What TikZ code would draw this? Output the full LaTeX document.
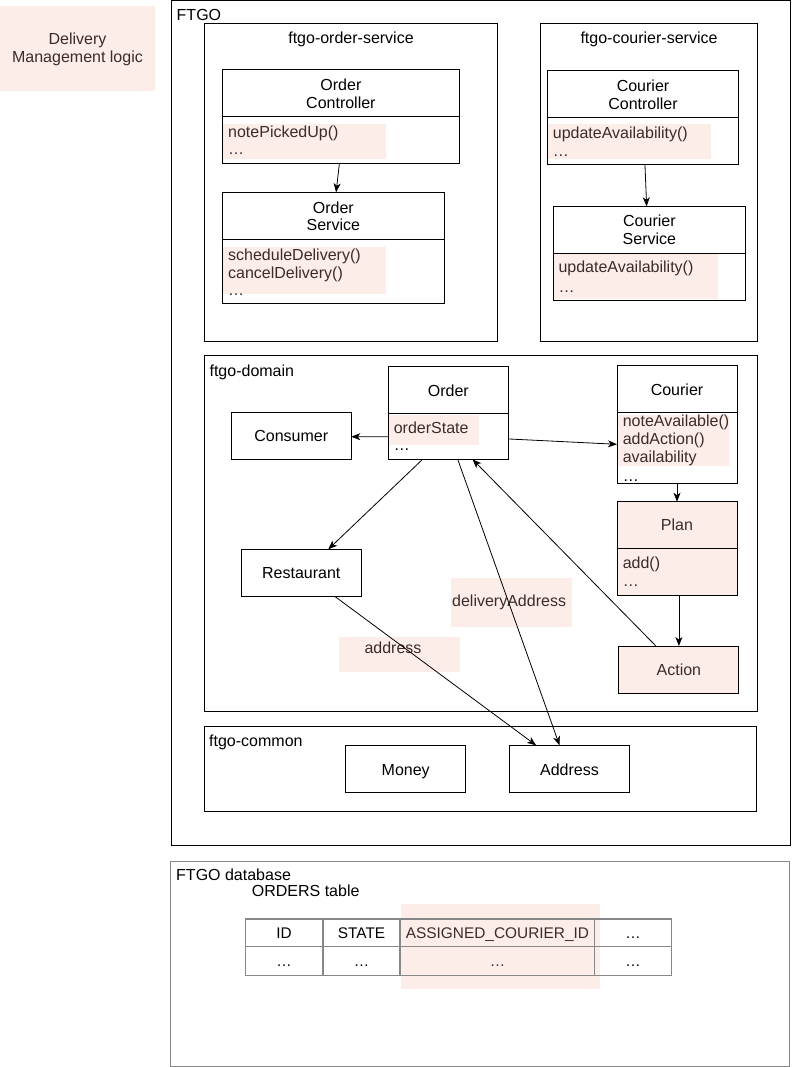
\documentclass[tikz,border=0pt]{standalone}
\usepackage{fontspec}
\setmainfont{Liberation Sans}
\usetikzlibrary{arrows.meta}
\definecolor{hl}{RGB}{253,237,233}
\definecolor{hltext}{RGB}{58,44,44}
\definecolor{dbgray}{RGB}{135,135,135}
\begin{document}
\begin{tikzpicture}[x=1pt,y=-1pt,
  every node/.style={font=\fontsize{16}{18}\selectfont},
  box/.style={draw, line width=1pt, inner sep=0pt, outer sep=0pt, anchor=north west},
  hlbox/.style={fill=hl, draw=none, inner sep=0pt, outer sep=0pt, anchor=north west},
  txt/.style={anchor=base, inner sep=0pt},
  ltxt/.style={anchor=base west, inner sep=0pt},
  htxt/.style={anchor=base west, inner sep=0pt, text=hltext},
  divider/.style={line width=1pt},
  conn/.style={line width=0.8pt, -{Stealth[length=9pt,width=7pt,inset=2.5pt]}},
  cell/.style={draw=dbgray, line width=1.3pt, inner sep=0pt, outer sep=0pt, anchor=north west, text height=11pt, text depth=0pt, font=\fontsize{15.4}{18}\selectfont}]
\useasboundingbox (0,0) rectangle (792,1067);

% legend
\node[hlbox, minimum width=155, minimum height=85] (dml) at (0,6) {};
\node[txt, text=hltext] (dmlA) at (77.5,45) {Delivery};
\node[txt, text=hltext] (dmlB) at (77.5,63) {Management logic};

% pink highlights (behind boxes)
\node[hlbox, minimum width=163.7, minimum height=35] (hlOC) at (222.3,124) {};
\node[hlbox, minimum width=163.7, minimum height=47.3] (hlOS) at (222.3,246.7) {};
\node[hlbox, minimum width=163.2, minimum height=35] (hlCC) at (547.8,124) {};
\node[hlbox, minimum width=164.2, minimum height=46] (hlCS) at (553.5,253.3) {};
\node[hlbox, minimum width=90.7, minimum height=30] (hlO) at (388.3,415) {};
\node[hlbox, minimum width=112, minimum height=50.7] (hlC) at (617,415) {};
\node[hlbox, minimum width=199.5, minimum height=84.7] (hlT) at (400.5,904) {};

% FTGO container
\node[box, minimum width=619.3, minimum height=844] (ftgo) at (171,1) {};
\node[ltxt] (ftgoL) at (176.5,20.7) {FTGO};

% ftgo-order-service
\node[box, minimum width=293.3, minimum height=317.3] (osvc) at (204.3,24) {};
\node[txt] (osvcL) at (351,43.3) {ftgo-order-service};

\node[box, minimum width=237.2, minimum height=94] (oc) at (222.3,69.3) {};
\draw[divider] (oc.west |- 0,116.7) -- (oc.east |- 0,116.7);
\node[txt] (ocA) at (340.9,90.7) {Order};
\node[txt] (ocB) at (340.9,108.3) {Controller};
\node[htxt] (ocM1) at (228,137.7) {notePickedUp()};
\node[htxt] (ocM2) at (228,155) {…};

\node[box, minimum width=222, minimum height=111] (os) at (222.3,192.3) {};
\draw[divider] (os.west |- 0,239.3) -- (os.east |- 0,239.3);
\node[txt] (osA) at (333.3,213.3) {Order};
\node[txt] (osB) at (333.3,231) {Service};
\node[htxt] (osM1) at (228,260) {scheduleDelivery()};
\node[htxt] (osM2) at (228,278.3) {cancelDelivery()};
\node[htxt] (osM3) at (228,295.7) {…};

% ftgo-courier-service
\node[box, minimum width=217, minimum height=317.3] (csvc) at (540.7,24) {};
\node[txt] (csvcL) at (649,44) {ftgo-courier-service};

\node[box, minimum width=190.7, minimum height=94] (cc) at (547.8,70.3) {};
\draw[divider] (cc.west |- 0,117.3) -- (cc.east |- 0,117.3);
\node[txt] (ccA) at (643,91.7) {Courier};
\node[txt] (ccB) at (643,110) {Controller};
\node[htxt] (ccM1) at (552.7,138.3) {updateAvailability()};
\node[htxt] (ccM2) at (552.7,156.7) {…};

\node[box, minimum width=191.7, minimum height=93.7] (cs) at (553.5,206.3) {};
\draw[divider] (cs.west |- 0,253.3) -- (cs.east |- 0,253.3);
\node[txt] (csA) at (649.4,226.7) {Courier};
\node[txt] (csB) at (649.4,244.3) {Service};
\node[htxt] (csM1) at (558.3,272.7) {updateAvailability()};
\node[htxt] (csM2) at (558.3,292.7) {…};

% ftgo-domain
\node[box, minimum width=553.2, minimum height=356.2] (dom) at (204.3,355.5) {};
\node[ltxt] (domL) at (209.4,376) {ftgo-domain};

\node[box, minimum width=120, minimum height=93.3] (order) at (388.3,366) {};
\draw[divider] (order.west |- 0,413.3) -- (order.east |- 0,413.3);
\node[txt] (orderT) at (448.3,396) {Order};
\node[htxt] (orderM1) at (393.6,433.3) {orderState};
\node[ltxt] (orderM2) at (393.6,450) {…};

\node[box, minimum width=120, minimum height=47] (consumer) at (231.3,412.3) {};
\node[txt] (consumerT) at (291.3,441.7) {Consumer};

\node[box, minimum width=120, minimum height=118] (courier) at (617,365.3) {};
\draw[divider] (courier.west |- 0,412) -- (courier.east |- 0,412);
\node[txt] (courierT) at (677,395) {Courier};
\node[htxt] (courierM1) at (622.6,426) {noteAvailable()};
\node[htxt] (courierM2) at (622.6,444.3) {addAction()};
\node[htxt] (courierM3) at (622.6,462.7) {availability};
\node[ltxt] (courierM4) at (622.6,481.7) {…};

\node[box, fill=hl, minimum width=120, minimum height=93.6] (plan) at (617,501.7) {};
\draw[divider] (plan.west |- 0,548.7) -- (plan.east |- 0,548.7);
\node[txt, text=hltext] (planT) at (677,530) {Plan};
\node[htxt] (planM1) at (622.6,568.3) {add()};
\node[htxt] (planM2) at (622.6,586.7) {…};

\node[box, fill=hl, minimum width=120, minimum height=47.3] (action) at (618.9,646) {};
\node[txt, text=hltext] (actionT) at (678.9,675) {Action};

\node[box, minimum width=119.6, minimum height=47] (restaurant) at (241.5,549.3) {};
\node[txt] (restaurantT) at (301.3,578.7) {Restaurant};

\node[hlbox, minimum width=120.7, minimum height=48.7] (lblDA) at (451,578) {};
\node[htxt] (lblDAT) at (452,606.7) {deliveryAddress};
\node[hlbox, minimum width=121.1, minimum height=35] (lblA) at (338.9,636.7) {};
\node[txt, text=hltext] (lblAT) at (393,653.3) {address};

% ftgo-common
\node[box, minimum width=551.9, minimum height=84.6] (common) at (204.2,726.7) {};
\node[ltxt] (commonL) at (209,746.7) {ftgo-common};
\node[box, minimum width=119.9, minimum height=47] (money) at (345.8,745.3) {};
\node[txt] (moneyT) at (405.7,775) {Money};
\node[box, minimum width=119.8, minimum height=47] (address) at (509.6,745.3) {};
\node[txt] (addressT) at (569.5,775) {Address};

% connectors
\draw[conn] ([xshift=-1.5]oc.south) -- ([xshift=2.8]os.north);
\draw[conn] ([xshift=1.8]cc.south) -- ([xshift=-2.7]cs.north);
\draw[conn] ([yshift=-24]order.west) -- ([yshift=-0.9]consumer.east);
\draw[conn] ([yshift=-26.3]order.east) -- ([yshift=-20]courier.west);
\draw[conn] (courier.south) -- (plan.north);
\draw[conn] ([xshift=1.9]plan.south) -- (action.north);
\draw[conn] ([xshift=-25.7]order.south) -- ([xshift=27]restaurant.north);
\draw[conn] ([xshift=9.4]order.south) -- ([xshift=-10]address.north);
\draw[conn] ([xshift=-23]action.north) -- ([xshift=24.2]order.south);
\draw[conn] ([xshift=33.4]restaurant.south) -- ([xshift=-33.4]address.north);

% database
\node[box, draw=dbgray, line width=1.2pt, minimum width=619, minimum height=205] (db) at (170.5,861.7) {};
\node[ltxt] (dbL) at (176,880) {FTGO database};
\node[ltxt] (tblL) at (251.7,896.7) {ORDERS table};

\node[cell, minimum width=77.6, minimum height=27.7] (c11) at (245.3,919) {ID};
\node[cell, minimum width=77.2, minimum height=27.7] (c12) at (322.9,919) {STATE};
\node[cell, minimum width=194.7, minimum height=27.7, text=hltext] (c13) at (400.1,919) {ASSIGNED\_COURIER\_ID};
\node[cell, minimum width=76.5, minimum height=27.7] (c14) at (594.8,919) {…};
\node[cell, minimum width=77.6, minimum height=28.6] (c21) at (245.3,946.7) {…};
\node[cell, minimum width=77.2, minimum height=28.6] (c22) at (322.9,946.7) {…};
\node[cell, minimum width=194.7, minimum height=28.6, text=hltext] (c23) at (400.1,946.7) {…};
\node[cell, minimum width=76.5, minimum height=28.6] (c24) at (594.8,946.7) {…};
\end{tikzpicture}
\end{document}
